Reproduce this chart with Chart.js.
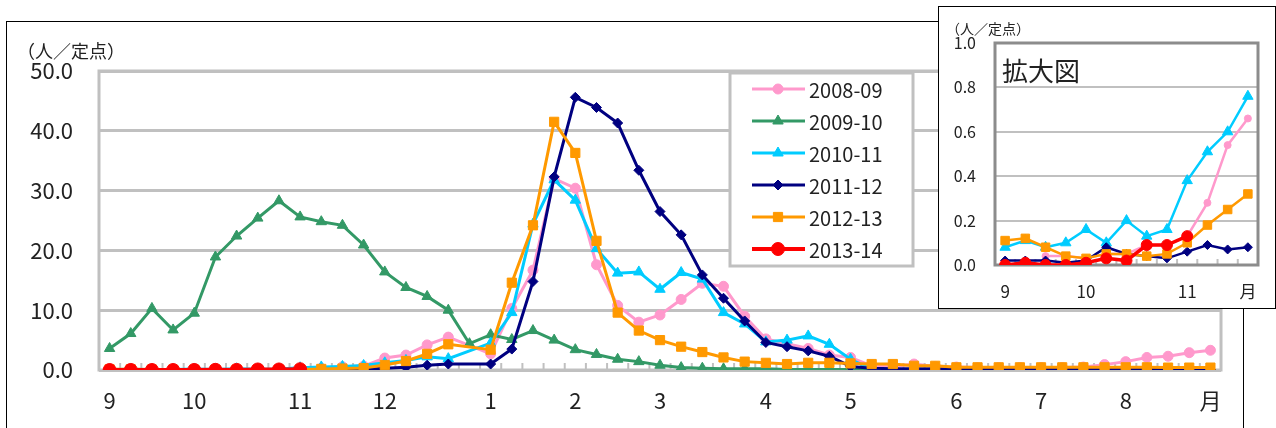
<!DOCTYPE html>
<html lang="ja">
<head>
<meta charset="utf-8">
<script src="https://cdn.jsdelivr.net/npm/chart.js"></script>
<style>
  body { margin: 0; width: 1276px; height: 428px; background: #fff; position: relative; overflow: hidden;
         font-family: "Noto Sans CJK JP", sans-serif; color: #222; }
  #frame { position: absolute; left: 6px; top: 21px; width: 1238px; height: 430px; border: 1px solid #000; box-sizing: border-box; }
  #mainChart { position: absolute; left: 0; top: 0; }
  #unitMain { position: absolute; left: 17px; top: 41px; font-size: 18px; line-height: 18px; white-space: nowrap; }
  #inset { position: absolute; left: 938px; top: 6px; width: 338px; height: 303px; border: 1px solid #000;
           box-sizing: border-box; background: #fff; }
  #insetChart { position: absolute; left: 0; top: 0; }
  #unitInset { position: absolute; left: 7px; top: 14px; font-size: 14px; line-height: 14px; white-space: nowrap; }
  #insetTitle { position: absolute; left: 63px; top: 50px; font-size: 26px; line-height: 26px; white-space: nowrap; }
</style>
</head>
<body>
<div id="frame"></div>
<canvas id="mainChart" width="1276" height="428"></canvas>
<div id="unitMain">（人／定点）</div>
<div id="inset">
  <canvas id="insetChart" width="336" height="301"></canvas>
  <div id="unitInset">（人／定点）</div>
  <div id="insetTitle">拡大図</div>
</div>
<script>
// --- データ（週ごとの定点当たり報告数）---
// 36週〜翌年35週。idx17 は53週（2009-10 シーズンのみ）
const monthLabels = ['9', '10', '11', '12', '1', '2', '3', '4', '5', '6', '7', '8', '月'];
const monthIndex = [0, 4, 9, 13, 18, 22, 26, 31, 35, 40, 44, 48, 52];
const weekCount = 53;

// 拡大図（最初の13週）の月ラベル
const insetMonthLabels = ['9', '10', '11', '月'];
const insetMonthIndex = [0, 4, 9, 12];
const insetWeeks = 13;

const seriesNames = ['2008-09', '2009-10', '2010-11', '2011-12', '2012-13', '2013-14'];

const s0809 = [null, null, 0.04, 0.04, 0.03, 0.05, 0.05, 0.09, 0.09, 0.13, 0.28, 0.54, 0.66,
  2.0, 2.5, 4.2, 5.5, null, 2.7, 10.3, 16.7, 32.0, 30.4, 17.6, 10.8, 8.0, 9.2, 11.8, 14.5, 14.0, 9.0,
  5.2, 4.4, 3.6, 2.5, 2.1, 0.7, 0.6, 1.0, 0.6, 0.5, 0.4, 0.4, 0.4, 0.4, 0.4, 0.5, 0.9, 1.4, 2.1, 2.3, 2.9, 3.3];
const s0910 = [3.6, 6.1, 10.3, 6.7, 9.5, 18.9, 22.4, 25.4, 28.3, 25.6, 24.8, 24.2, 20.9,
  16.4, 13.8, 12.3, 10.0, 4.4, 5.9, 5.1, 6.6, 5.0, 3.4, 2.6, 1.8, 1.4, 0.8, 0.4, 0.3, 0.2, 0.2,
  0.2, 0.1, 0.1, 0.1, 0.1, 0.1, 0.1, 0.1, 0.1, 0.0, 0.0, 0.0, 0.0, 0.0, 0.0, 0.0, 0.0, 0.0, 0.0, 0.0, 0.0, 0.0];
const s1011 = [0.08, 0.11, 0.08, 0.10, 0.16, 0.10, 0.20, 0.13, 0.16, 0.38, 0.51, 0.60, 0.76,
  1.2, 1.6, 2.2, 1.9, null, 4.5, 9.6, 24.4, 31.8, 28.4, 20.3, 16.2, 16.4, 13.5, 16.3, 15.2, 9.6, 7.7,
  4.7, 5.0, 5.7, 4.3, 1.8, 0.1, 0.1, 0.0, 0.0, 0.0, 0.0, 0.0, 0.0, 0.0, 0.0, 0.0, 0.0, 0.0, 0.0, 0.0, 0.0, 0.0];
const s1112 = [0.02, 0.02, 0.02, 0.01, 0.02, 0.08, 0.05, 0.04, 0.03, 0.06, 0.09, 0.07, 0.08,
  0.3, 0.45, 0.8, 1.0, null, 1.0, 3.5, 14.8, 32.3, 45.6, 43.9, 41.3, 33.4, 26.5, 22.6, 15.9, 12.0, 8.2,
  4.6, 3.9, 3.2, 2.3, 0.6, 0.3, 0.2, 0.2, 0.2, 0.1, 0.1, 0.1, 0.1, 0.1, 0.1, 0.1, 0.1, 0.1, 0.1, 0.1, 0.1, 0.1];
const s1213 = [0.11, 0.12, 0.08, 0.04, 0.03, 0.05, 0.05, 0.04, 0.05, 0.10, 0.18, 0.25, 0.32,
  0.84, 1.5, 2.7, 4.3, null, 3.4, 14.6, 24.2, 41.5, 36.3, 21.6, 9.6, 6.6, 5.0, 3.9, 3.0, 2.1, 1.4,
  1.2, 1.0, 1.2, 1.2, 1.1, 1.0, 1.0, 0.7, 0.7, 0.45, 0.45, 0.45, 0.45, 0.45, 0.45, 0.45, 0.45, 0.45, 0.45, 0.4, 0.4, 0.4];
const s1314 = [0.00, 0.01, 0.00, 0.00, 0.01, 0.03, 0.02, 0.09, 0.09, 0.13];

const seriesValues = [s0809, s0910, s1011, s1112, s1213, s1314];

const mainTicks = [0, 10, 20, 30, 40, 50];
const insetTicks = [0, 0.2, 0.4, 0.6, 0.8, 1.0];

// --- 見た目 ---
const FONT = '"Noto Sans CJK JP", sans-serif';
const styles = [
  { color: '#FF99CC', point: 'circle',   r: 5,   w: 3,   ri: 3.5 },
  { color: '#339966', point: 'triangle', r: 6,   w: 3,   ri: 5 },
  { color: '#00CCFF', point: 'triangle', r: 6,   w: 3,   ri: 6 },
  { color: '#000080', point: 'rectRot',  r: 5,   w: 3,   ri: 4.5 },
  { color: '#FF9900', point: 'rect',     r: 6.5, w: 3,   ri: 6 },
  { color: '#FF0000', point: 'circle',   r: 6.5, w: 4,   ri: 5.5 }
];

// x軸のラベル（月の位置だけ文字を入れる）
function buildLabels(count, labels, index) {
  const out = [];
  for (let i = 0; i < count; i++) out.push('');
  index.forEach((idx, k) => { out[idx] = labels[k]; });
  return out;
}
const categories = buildLabels(weekCount, monthLabels, monthIndex);
const insetCategories = buildLabels(insetWeeks, insetMonthLabels, insetMonthIndex);

// プロット枠と、カテゴリ間の小さな目盛り
const framePlugin = {
  id: 'frame',
  beforeDatasetsDraw(chart, args, opts) {
    const ctx = chart.ctx;
    const a = chart.chartArea;
    const x = chart.scales.x;
    ctx.save();
    ctx.strokeStyle = opts.tickColor;
    ctx.lineWidth = 2;
    for (let i = 0; i < x.ticks.length - 1; i++) {
      const px = (x.getPixelForTick(i) + x.getPixelForTick(i + 1)) / 2;
      ctx.beginPath();
      ctx.moveTo(px, a.bottom);
      ctx.lineTo(px, a.bottom - opts.tickLen);
      ctx.stroke();
    }
    ctx.strokeStyle = opts.color;
    ctx.lineWidth = opts.width;
    ctx.strokeRect(a.left, a.top, a.right - a.left, a.bottom - a.top);
    ctx.restore();
  }
};

// 凡例（プロット内右上の白い箱）
const legendBox = {
  id: 'legendBox',
  afterDatasetsDraw(chart) {
    const ctx = chart.ctx;
    ctx.save();
    ctx.fillStyle = '#fff';
    ctx.fillRect(730, 73, 183, 193);
    ctx.strokeStyle = '#c0c0c0';
    ctx.lineWidth = 3;
    ctx.strokeRect(730, 73, 183, 193);
    chart.data.datasets.forEach((ds, k) => {
      const y = 89 + 32 * k;
      ctx.strokeStyle = ds.borderColor;
      ctx.lineWidth = ds.borderWidth;
      ctx.beginPath();
      ctx.moveTo(752, y);
      ctx.lineTo(805, y);
      ctx.stroke();
      ctx.fillStyle = ds.pointBackgroundColor;
      ctx.lineWidth = 1;
      Chart.helpers.drawPoint(ctx, { pointStyle: ds.pointStyle, radius: ds.pointRadius, borderWidth: 1 }, 778, y);
      ctx.fillStyle = '#222';
      ctx.font = '20px ' + FONT;
      ctx.textAlign = 'left';
      ctx.textBaseline = 'middle';
      ctx.fillText(ds.label, 809, y + 1);
    });
    ctx.restore();
  }
};

function makeDataset(k, values, inset) {
  const st = styles[k];
  return {
    label: seriesNames[k],
    data: values,
    borderColor: st.color,
    backgroundColor: st.color,
    pointBackgroundColor: st.color,
    pointBorderColor: st.color,
    borderWidth: inset ? st.w - 0.5 : st.w,
    pointStyle: st.point,
    pointRadius: inset ? st.ri : st.r,
    pointBorderWidth: 1,
    tension: 0,
    spanGaps: true,
    order: seriesNames.length - k
  };
}

// --- メインのグラフ ---
new Chart(document.getElementById('mainChart'), {
  type: 'line',
  data: {
    labels: categories,
    datasets: seriesValues.map((v, k) => makeDataset(k, v, false))
  },
  options: {
    responsive: false,
    animation: false,
    layout: { padding: { top: 71, right: 55, left: 0, bottom: 0 } },
    plugins: {
      legend: { display: false },
      tooltip: { enabled: false },
      frame: { color: '#c0c0c0', width: 3, tickColor: '#c0c0c0', tickLen: 7 }
    },
    scales: {
      x: {
        offset: true,
        grid: { display: false },
        border: { display: false },
        ticks: { autoSkip: false, maxRotation: 0, padding: 9, color: '#222', font: { size: 22, family: FONT } },
        afterFit: s => { s.height = 58; }
      },
      y: {
        min: mainTicks[0],
        max: mainTicks[mainTicks.length - 1],
        grid: { color: '#c0c0c0', lineWidth: 3, drawTicks: false },
        border: { display: false },
        afterBuildTicks: s => { s.ticks = mainTicks.map(v => ({ value: v })); },
        ticks: { padding: 26, color: '#222', font: { size: 22, family: FONT }, callback: v => v.toFixed(1) },
        afterFit: s => { s.width = 99; }
      }
    }
  },
  plugins: [framePlugin, legendBox]
});

// --- 拡大図（最初の13週、2009-10 は除く）---
const insetSets = [];
seriesValues.forEach((v, k) => {
  if (k === 1) return;
  insetSets.push(makeDataset(k, v.slice(0, insetWeeks), true));
});

new Chart(document.getElementById('insetChart'), {
  type: 'line',
  data: { labels: insetCategories, datasets: insetSets },
  options: {
    responsive: false,
    animation: false,
    layout: { padding: { top: 36, right: 17, left: 0, bottom: 0 } },
    plugins: {
      legend: { display: false },
      tooltip: { enabled: false },
      frame: { color: '#8c8c8c', width: 3, tickColor: '#c0c0c0', tickLen: 6 }
    },
    scales: {
      x: {
        offset: true,
        grid: { display: false },
        border: { display: false },
        ticks: { autoSkip: false, maxRotation: 0, padding: 8, color: '#222', font: { size: 17, family: FONT } },
        afterFit: s => { s.height = 43; }
      },
      y: {
        min: insetTicks[0],
        max: insetTicks[insetTicks.length - 1],
        grid: { color: '#c0c0c0', lineWidth: 2, drawTicks: false },
        border: { display: false },
        afterBuildTicks: s => { s.ticks = insetTicks.map(v => ({ value: v })); },
        ticks: { padding: 19, color: '#222', font: { size: 16, family: FONT }, callback: v => v.toFixed(1) },
        afterFit: s => { s.width = 56; }
      }
    }
  },
  plugins: [framePlugin]
});
</script>
</body>
</html>
